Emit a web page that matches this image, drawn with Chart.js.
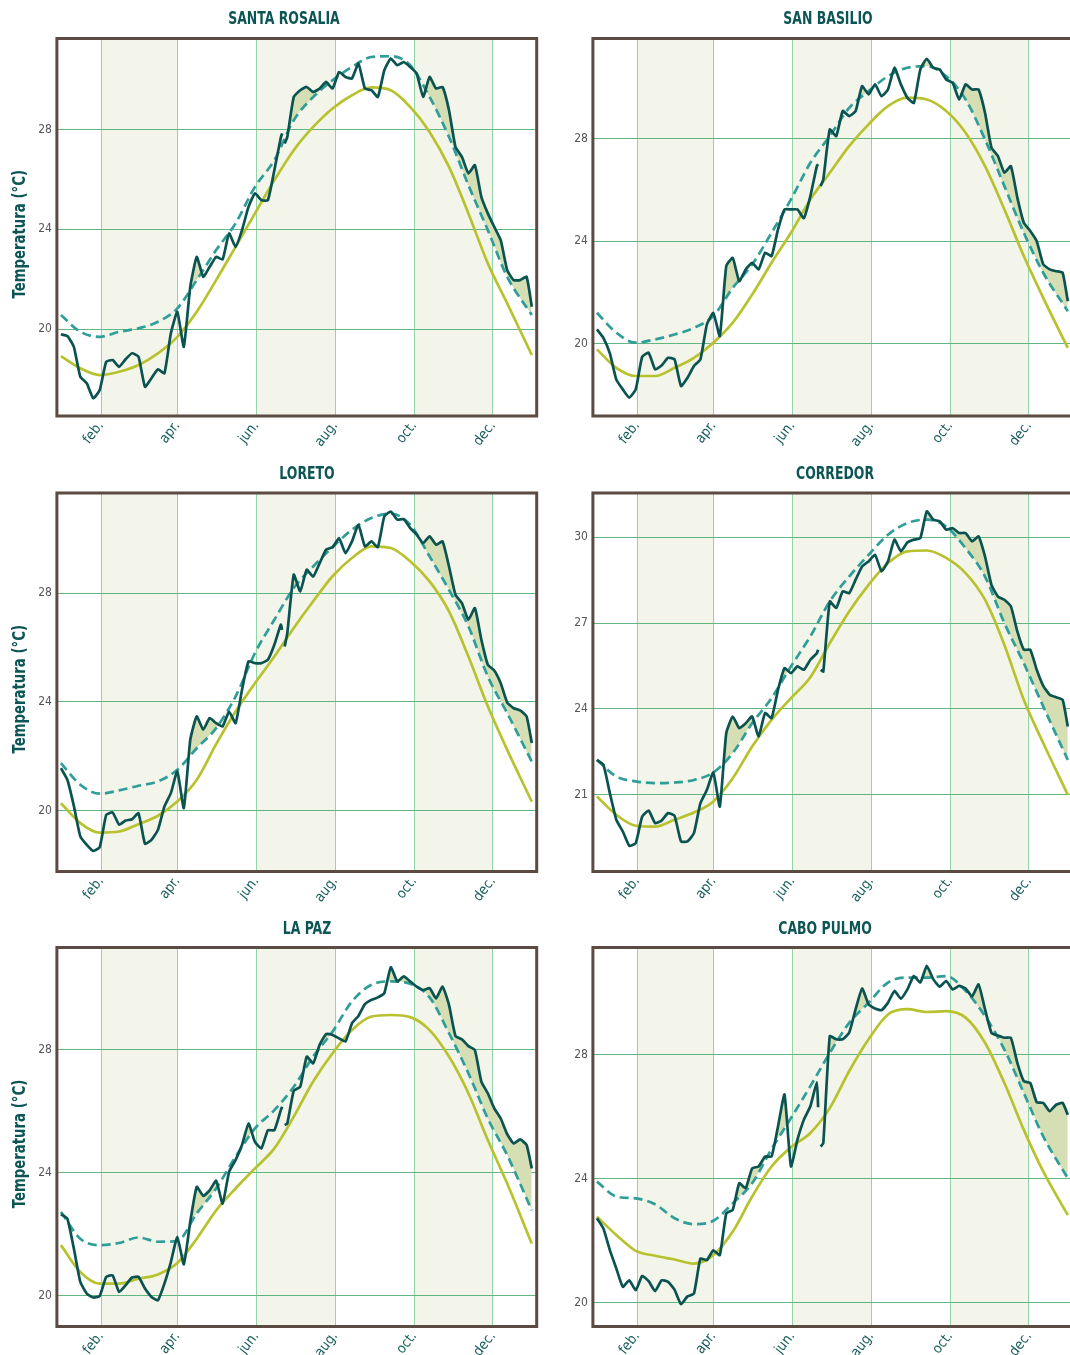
<!DOCTYPE html>
<html lang="es">
<head>
<meta charset="UTF-8">
<title>Temperatura superficial del mar</title>
<script src="https://cdn.jsdelivr.net/npm/chart.js@4"></script>
<style>
  body { margin: 0; width: 1070px; height: 1355px; overflow: hidden; background: #fff; position: relative; }
  canvas { position: absolute; }
</style>
</head>
<body>
<canvas id="c0" width="548" height="455" style="left:0;top:0"></canvas>
<canvas id="c1" width="548" height="455" style="left:536px;top:0"></canvas>
<canvas id="c2" width="548" height="455" style="left:0;top:455px"></canvas>
<canvas id="c3" width="548" height="455" style="left:536px;top:455px"></canvas>
<canvas id="c4" width="548" height="445" style="left:0;top:910px"></canvas>
<canvas id="c5" width="548" height="445" style="left:536px;top:910px"></canvas>
<script>
// ================= DATOS =================
// dia del año (0 = 1 ene). hueco de datos el dia 172
const obsDays = [0,5,10,15,20,25,30,35,40,45,50,55,60,65,70,75,80,85,90,95,100,105,110,115,120,125,130,135,140,145,150,155,160,165,170,171,172,173,175,180,185,190,195,200,205,210,215,220,225,230,235,240,245,250,255,260,265,270,275,280,285,290,295,300,305,310,315,320,325,330,335,340,345,350,355,360,364];
const smoothDays = [0,15,30,45,60,75,90,105,120,135,150,165,180,195,210,225,240,255,270,285,300,315,330,345,364];

const monthTickDays = [31, 90, 151, 212, 273, 334];
const monthLabels = ["feb.", "apr.", "jun.", "aug.", "oct.", "dec."];
const bandDays = [[31, 90], [151, 212], [273, 334]];

// Santa Rosalia
const santaRosaliaObs = [19.8,19.73,19.3,18.1,17.84,17.24,17.57,18.7,18.77,18.5,18.8,19.04,18.9,17.7,18.04,18.4,18.24,19.84,20.7,19.3,21.7,22.9,22.1,22.5,22.9,22.8,23.84,23.3,23.97,24.9,25.44,25.17,25.17,26.37,27.68,27.84,null,27.44,27.7,29.3,29.57,29.7,29.5,29.64,29.9,29.64,30.3,30.1,30.04,30.64,29.64,29.57,29.3,30.37,30.84,30.57,30.7,30.5,30.24,29.3,30.1,29.64,29.7,28.77,27.3,26.9,26.24,26.57,25.3,24.64,24.1,23.57,22.37,21.97,21.97,22.1,20.9];
const santaRosaliaClim = [20.57,19.9,19.7,19.9,20.04,20.3,20.84,21.97,23.17,24.24,25.7,26.77,28.37,29.3,29.97,30.5,30.9,30.93,30.57,29.3,27.7,25.77,23.97,22.1,20.57];
const santaRosaliaHist = [18.93,18.44,18.17,18.3,18.57,19.04,19.7,20.7,21.97,23.3,24.64,25.97,27.17,28.1,28.84,29.37,29.68,29.57,28.9,27.9,26.5,24.64,22.64,21.04,18.97];

// San Basilio
const sanBasilioObs = [20.56,20.23,19.62,18.6,18.22,17.9,18.22,19.49,19.65,19.0,19.15,19.45,19.39,18.35,18.67,19.13,19.39,20.75,21.2,20.3,23.03,23.35,22.44,22.9,23.16,22.9,23.55,23.42,24.46,25.24,25.24,25.24,24.9,25.76,26.93,27.0,null,26.15,26.41,28.36,28.1,29.08,28.88,29.08,30.05,29.73,30.12,29.66,29.92,30.77,30.12,29.6,29.4,30.7,31.12,30.77,30.7,30.31,30.18,29.53,30.12,29.92,29.92,29.01,27.65,27.32,26.67,26.93,25.7,24.72,24.4,24.0,23.1,22.9,22.83,22.77,21.66];
const sanBasilioClim = [21.21,20.43,20.04,20.17,20.36,20.62,21.08,22.18,23.09,24.33,25.63,27.06,28.1,29.2,29.86,30.44,30.77,30.83,30.44,29.53,27.97,26.15,24.33,22.77,21.27];
const sanBasilioHist = [19.78,19.06,18.74,18.74,19.06,19.45,20.04,20.82,21.92,23.16,24.33,25.63,26.67,27.71,28.56,29.27,29.6,29.53,29.08,28.23,26.93,25.24,23.42,21.79,19.84];

// Loreto
const loretoObs = [21.57,21.14,20.18,19.06,18.75,18.53,18.66,19.85,19.94,19.49,19.64,19.69,19.91,18.79,18.93,19.3,20.16,20.65,21.45,20.1,22.61,23.47,22.98,23.41,23.22,23.1,23.65,23.22,24.45,25.49,25.43,25.43,25.55,26.1,26.84,26.65,null,26.04,26.53,28.68,28.06,28.86,28.61,29.1,29.6,29.69,30.02,29.47,29.9,30.51,29.72,29.9,29.69,30.82,31.0,30.7,30.72,30.39,30.15,29.84,30.09,29.78,29.9,28.98,27.94,27.63,27.02,27.45,26.29,25.37,25.16,24.69,23.98,23.77,23.69,23.47,22.49];
const loretoClim = [21.75,20.96,20.63,20.75,20.92,21.08,21.51,22.3,23.04,24.2,25.8,27.02,28.19,28.98,29.69,30.33,30.76,30.92,30.51,29.35,28.12,26.78,24.94,23.59,21.81];
const loretoHist = [20.28,19.55,19.2,19.24,19.51,19.82,20.34,21.14,22.45,23.65,24.69,25.67,26.72,27.7,28.62,29.29,29.72,29.66,29.17,28.43,27.33,25.67,23.84,22.24,20.34];

// Corredor
const corredorObs = [22.22,22.05,21.06,20.13,19.72,19.22,19.31,20.24,20.45,20.01,20.1,20.36,20.27,19.37,19.37,19.66,20.71,21.17,21.78,20.59,23.16,23.74,23.33,23.5,23.74,23.04,23.86,23.68,24.67,25.43,25.25,25.49,25.37,25.72,25.95,26.07,null,25.37,25.31,27.76,27.53,28.11,28.05,28.52,28.98,29.16,29.39,28.81,29.16,29.92,29.51,29.82,29.92,29.97,30.91,30.62,30.56,30.27,30.32,30.15,30.15,29.86,30.03,29.33,28.34,27.93,27.82,27.59,26.71,26.07,26.07,25.37,24.81,24.5,24.41,24.32,23.39];
const corredorClim = [22.22,21.64,21.47,21.41,21.43,21.52,21.78,22.46,23.5,24.38,25.49,26.54,27.76,28.63,29.39,30.09,30.5,30.62,30.38,29.62,28.63,27.0,25.6,24.09,22.22];
const corredorHist = [20.94,20.3,19.92,19.89,20.13,20.38,20.77,21.58,22.69,23.62,24.38,25.11,26.3,27.41,28.34,29.1,29.51,29.54,29.28,28.75,27.82,26.24,24.32,22.81,21.0];

// La Paz
const laPazObs = [22.65,22.51,21.54,20.46,20.08,19.95,20.0,20.62,20.67,20.13,20.35,20.6,20.62,20.24,19.97,19.86,20.4,21.1,21.92,21.03,22.41,23.54,23.25,23.43,23.74,23.0,24.03,24.41,24.9,25.6,25.0,24.79,25.38,25.38,26.03,26.14,null,25.55,25.6,26.66,26.79,27.77,27.55,28.15,28.5,28.47,28.36,28.26,28.85,29.09,29.47,29.61,29.69,29.83,30.67,30.21,30.37,30.21,30.04,29.93,29.99,29.66,30.04,29.45,28.44,28.33,28.11,27.98,26.96,26.58,26.09,25.76,25.25,24.95,25.08,24.9,24.14];
const laPazClim = [22.73,21.86,21.65,21.72,21.9,21.76,21.79,22.68,23.49,24.52,25.44,26.03,26.79,27.77,28.58,29.56,30.1,30.21,30.13,29.69,28.53,27.23,25.76,24.57,22.78];
const laPazHist = [21.65,20.78,20.4,20.4,20.56,20.7,21.07,21.86,22.78,23.49,24.14,24.79,25.82,26.96,27.88,28.63,29.07,29.12,29.05,28.63,27.77,26.58,25.06,23.65,21.7];

// Cabo Pulmo
const caboPulmoObs = [22.72,22.39,21.69,21.1,20.51,20.72,20.4,20.86,20.69,20.37,20.72,20.67,20.42,19.95,20.2,20.29,21.42,21.37,21.69,21.53,22.88,22.99,23.85,23.69,24.33,24.39,24.71,24.71,25.68,26.71,24.39,25.25,25.9,26.33,27.1,26.3,null,25.03,25.14,28.59,28.49,28.49,28.7,29.46,30.13,29.62,29.48,29.43,29.67,30.05,29.8,30.1,30.53,30.32,30.86,30.43,30.19,30.37,30.1,30.21,30.13,29.87,30.26,29.46,28.7,28.61,28.54,28.54,27.73,27.14,27.08,26.46,26.44,26.17,26.38,26.44,26.06];
const caboPulmoClim = [23.9,23.42,23.36,23.17,22.72,22.53,22.64,23.2,23.85,24.95,25.95,26.98,28.05,29.02,29.67,30.32,30.48,30.48,30.53,30.05,29.24,28.16,26.76,25.36,24.01];
const caboPulmoHist = [22.77,22.18,21.67,21.51,21.39,21.26,21.53,22.29,23.42,24.39,25.01,25.47,26.27,27.46,28.49,29.29,29.46,29.37,29.4,29.19,28.38,27.08,25.57,24.23,22.82];

const ticks4 = [20, 24, 28];
const ticks3 = [21, 24, 27, 30];

// ================= ESTILO =================
const FONT = "'DejaVu Sans Condensed', 'DejaVu Sans', sans-serif";
const COL_OBS = "#0b5350";
const COL_CLIM = "#2f9d98";
const COL_HIST = "#b8c22e";
const COL_FILL = "#d6deb3";
const COL_BAND = "#f3f4ea";
const COL_VGRID = "#94d4ab";
const COL_HGRID = "#62b682";
const COL_FRAME = "#5c4b43";
const COL_TITLE = "#0d5555";

const panels = [
  { id: "c0", name: "SANTA ROSALIA", obs: santaRosaliaObs, clim: santaRosaliaClim, hist: santaRosaliaHist, yMin: 16.53, yMax: 31.64, yTicks: ticks4, yLabel: true,  titleX: 284, top: 38.5, bottom: 416 },
  { id: "c1", name: "SAN BASILIO",   obs: sanBasilioObs,   clim: sanBasilioClim,   hist: sanBasilioHist,   yMin: 17.18, yMax: 31.91, yTicks: ticks4, yLabel: false, titleX: 292, top: 38.5, bottom: 416 },
  { id: "c2", name: "LORETO",        obs: loretoObs,       clim: loretoClim,       hist: loretoHist,       yMin: 17.77, yMax: 31.68, yTicks: ticks4, yLabel: true,  titleX: 307, top: 38,   bottom: 416.5 },
  { id: "c3", name: "CORREDOR",      obs: corredorObs,     clim: corredorClim,     hist: corredorHist,     yMin: 18.32, yMax: 31.55, yTicks: ticks3, yLabel: false, titleX: 299, top: 38,   bottom: 416.5 },
  { id: "c4", name: "LA PAZ",        obs: laPazObs,        clim: laPazClim,        hist: laPazHist,        yMin: 19.01, yMax: 31.31, yTicks: ticks4, yLabel: true,  titleX: 307, top: 37.5, bottom: 416.5 },
  { id: "c5", name: "CABO PULMO",    obs: caboPulmoObs,    clim: caboPulmoClim,    hist: caboPulmoHist,    yMin: 19.23, yMax: 31.45, yTicks: ticks4, yLabel: false, titleX: 289, top: 37.5, bottom: 416.5 }
];

const AREA_LEFT = 56.9;
const AREA_RIGHT = 536.7;

// texto estrecho (la fuente original es condensada)
function narrowText(ctx, text, x, y, font, color, squeeze, angle) {
  ctx.save();
  ctx.translate(x, y);
  if (angle) ctx.rotate(angle);
  ctx.scale(squeeze, 1);
  ctx.font = font;
  ctx.fillStyle = color;
  ctx.textAlign = "center";
  ctx.textBaseline = "middle";
  ctx.fillText(text, 0, 0);
  ctx.restore();
}

// bandas de meses alternos
const bandsPlugin = {
  id: "bands",
  beforeDraw(chart) {
    const { ctx, chartArea: a, scales: { x } } = chart;
    ctx.save();
    ctx.fillStyle = COL_BAND;
    bandDays.forEach(([d0, d1]) => {
      const x0 = x.getPixelForValue(d0);
      const x1 = x.getPixelForValue(d1);
      ctx.fillRect(x0, a.top, x1 - x0, a.bottom - a.top);
    });
    ctx.restore();
  }
};

// marco, titulo y etiqueta del eje y
const framePlugin = {
  id: "frame",
  afterDraw(chart, args, opts) {
    const { ctx, chartArea: a } = chart;
    ctx.save();
    ctx.strokeStyle = COL_FRAME;
    ctx.lineWidth = 3;
    ctx.strokeRect(a.left, a.top, a.right - a.left, a.bottom - a.top);
    ctx.restore();
    narrowText(ctx, opts.text, opts.x, 19, "bold 18px " + FONT, COL_TITLE, 0.77, 0);
    if (opts.yLabel) {
      narrowText(ctx, "Temperatura (°C)", 20.5, (a.top + a.bottom) / 2 + 7,
        "bold 18px " + FONT, COL_TITLE, 0.82, -Math.PI / 2);
    }
  }
};

function pts(days, vals) {
  return days.map((d, i) => ({ x: d, y: vals[i] }));
}

panels.forEach(p => {
  const canvas = document.getElementById(p.id);
  const W = canvas.width, H = canvas.height;
  new Chart(canvas, {
    type: "line",
    data: {
      datasets: [
        {
          label: "observada",
          data: pts(obsDays, p.obs),
          borderColor: COL_OBS,
          borderWidth: 2.7,
          pointRadius: 0,
          tension: 0.15,
          spanGaps: false,
          fill: { target: 1, above: COL_FILL, below: "rgba(0,0,0,0)" }
        },
        {
          label: "climatologia",
          data: pts(smoothDays, p.clim),
          borderColor: COL_CLIM,
          borderWidth: 2.7,
          borderDash: [9, 5],
          pointRadius: 0,
          cubicInterpolationMode: "monotone",
          fill: false
        },
        {
          label: "historica",
          data: pts(smoothDays, p.hist),
          borderColor: COL_HIST,
          borderWidth: 2.7,
          pointRadius: 0,
          cubicInterpolationMode: "monotone",
          fill: false
        }
      ]
    },
    options: {
      responsive: false,
      animation: false,
      events: [],
      layout: { padding: { top: p.top, left: 0, right: W - AREA_RIGHT, bottom: 0 } },
      scales: {
        x: {
          type: "linear",
          min: -3.1,
          max: 367.8,
          afterBuildTicks: s => { s.ticks = monthTickDays.map(v => ({ value: v })); },
          afterFit: s => { s.height = H - p.bottom; },
          border: { display: false },
          grid: { color: COL_VGRID, lineWidth: 1, drawTicks: false },
          ticks: {
            autoSkip: false,
            minRotation: 52,
            maxRotation: 52,
            padding: 2,
            color: "#175d5c",
            font: { family: FONT, size: 14 },
            callback: (v, i) => monthLabels[i]
          }
        },
        y: {
          min: p.yMin,
          max: p.yMax,
          afterBuildTicks: s => { s.ticks = p.yTicks.map(v => ({ value: v })); },
          afterFit: s => { s.width = AREA_LEFT; },
          border: { display: false },
          grid: { color: COL_HGRID, lineWidth: 1, drawTicks: false },
          ticks: {
            padding: 5,
            color: "#555",
            font: { family: FONT, size: 12 }
          }
        }
      },
      plugins: {
        legend: { display: false },
        tooltip: { enabled: false },
        filler: { drawTime: "beforeDatasetsDraw" },
        frame: { text: p.name, x: p.titleX, yLabel: p.yLabel }
      }
    },
    plugins: [bandsPlugin, framePlugin]
  });
});
</script>
</body>
</html>
